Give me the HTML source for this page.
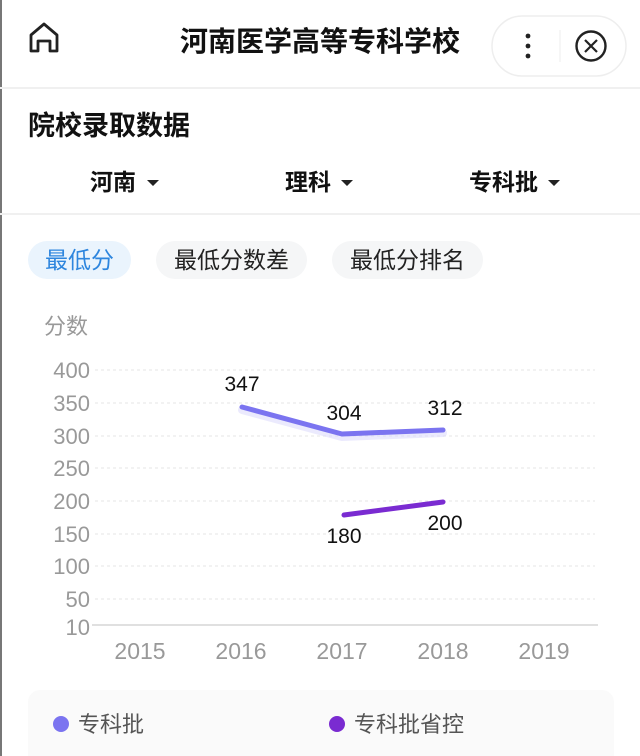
<!DOCTYPE html>
<html><head><meta charset="utf-8"><style>
body{margin:0;width:640px;height:756px;background:#fff;font-family:"Liberation Sans","Noto Sans CJK SC",sans-serif;position:relative;overflow:hidden}
.a{position:absolute}
</style></head><body>
<div class="a" style="left:0;top:0;width:2px;height:756px;background:#777"></div>
<svg class="a" style="left:0;top:0" width="640" height="756">
<path d="M31 51 V35 L44 24 L57 35 V51 H50 V41 H38 V51 Z" fill="none" stroke="#222" stroke-width="2.8" stroke-linejoin="round"/>
<rect x="492" y="16" width="134" height="60" rx="30" fill="#fff" stroke="#eee" stroke-width="1.5"/>
<circle cx="528" cy="36" r="2.4" fill="#222"/><circle cx="528" cy="46" r="2.4" fill="#222"/><circle cx="528" cy="56" r="2.4" fill="#222"/>
<line x1="560" y1="30" x2="560" y2="62" stroke="#eee"/>
<circle cx="591" cy="46" r="14.5" fill="none" stroke="#222" stroke-width="2.4"/>
<path d="M585 40 L597 52 M597 40 L585 52" stroke="#222" stroke-width="2.2"/>
<line x1="0" y1="88" x2="640" y2="88" stroke="#f0f0f0" stroke-width="2"/>
<line x1="0" y1="214" x2="640" y2="214" stroke="#f0f0f0" stroke-width="2"/>
<path d="M147 180 h12 l-6 6 z M341 180 h12 l-6 6 z M548 180 h12 l-6 6 z" fill="#222"/>
<rect x="28" y="241" width="103" height="38" rx="19" fill="#eaf4fd"/>
<rect x="156" y="241" width="151" height="38" rx="19" fill="#f5f6f7"/>
<rect x="332" y="241" width="151" height="38" rx="19" fill="#f5f6f7"/>
<g stroke="#e6e6e6" stroke-dasharray="3,3" stroke-width="1">
<line x1="95" x2="595" y1="370" y2="370"/><line x1="95" x2="595" y1="403" y2="403"/><line x1="95" x2="595" y1="436" y2="436"/><line x1="95" x2="595" y1="468" y2="468"/><line x1="95" x2="595" y1="501" y2="501"/><line x1="95" x2="595" y1="534" y2="534"/><line x1="95" x2="595" y1="566" y2="566"/><line x1="95" x2="595" y1="599" y2="599"/>
</g>
<line x1="92" x2="598" y1="625" y2="625" stroke="#e0e0e0" stroke-width="2"/>
<g font-size="22" fill="#999" text-anchor="end" font-family="Liberation Sans,sans-serif">
<text x="90" y="378">400</text><text x="90" y="411">350</text><text x="90" y="444">300</text><text x="90" y="476">250</text><text x="90" y="509">200</text><text x="90" y="542">150</text><text x="90" y="574">100</text><text x="90" y="607">50</text><text x="90" y="635">10</text>
</g>
<g font-size="23" fill="#999" text-anchor="middle" font-family="Liberation Sans,sans-serif">
<text x="140" y="659">2015</text><text x="241" y="659">2016</text><text x="342" y="659">2017</text><text x="443" y="659">2018</text><text x="544" y="659">2019</text>
</g>
<polyline points="242,407 342,434 443,430" fill="none" stroke="#d8d5fb" stroke-width="8" stroke-linecap="round" stroke-linejoin="round" opacity="0.5" transform="translate(0,3)"/>
<polyline points="242,407 342,434 443,430" fill="none" stroke="#7b74f0" stroke-width="5" stroke-linecap="round" stroke-linejoin="round"/>
<polyline points="344,515 443,502" fill="none" stroke="#7a2bd1" stroke-width="5" stroke-linecap="round"/>
<g font-size="21" fill="#111" text-anchor="middle" font-family="Liberation Sans,sans-serif">
<text x="242" y="391">347</text><text x="344" y="420">304</text><text x="445" y="415">312</text><text x="344" y="543">180</text><text x="445" y="530">200</text>
</g>
<rect x="28" y="690" width="586" height="80" rx="12" fill="#fafafa"/>
<circle cx="61" cy="724" r="8" fill="#7b74f0"/>
<circle cx="337" cy="724" r="8" fill="#7a2bd1"/>
</svg>
<div class="a" style="left:0;width:640px;top:20px;text-align:center;font-size:28px;font-weight:bold;color:#111;">河南医学高等专科学校</div>
<div class="a" style="left:28px;top:104px;font-size:27px;font-weight:bold;color:#111">院校录取数据</div>
<div class="a" style="left:90px;top:163px;font-size:23px;font-weight:bold;color:#111">河南</div>
<div class="a" style="left:285px;top:163px;font-size:23px;font-weight:bold;color:#111">理科</div>
<div class="a" style="left:469px;top:163px;font-size:23px;font-weight:bold;color:#111">专科批</div>
<div class="a" style="left:28px;width:103px;top:241px;text-align:center;font-size:23px;color:#2e86de">最低分</div>
<div class="a" style="left:156px;width:151px;top:241px;text-align:center;font-size:23px;color:#222">最低分数差</div>
<div class="a" style="left:332px;width:151px;top:241px;text-align:center;font-size:23px;color:#222">最低分排名</div>
<div class="a" style="left:44px;top:309px;font-size:22px;color:#999">分数</div>
<div class="a" style="left:78px;top:707px;font-size:22px;color:#555">专科批</div>
<div class="a" style="left:354px;top:707px;font-size:22px;color:#555">专科批省控</div>
</body></html>
